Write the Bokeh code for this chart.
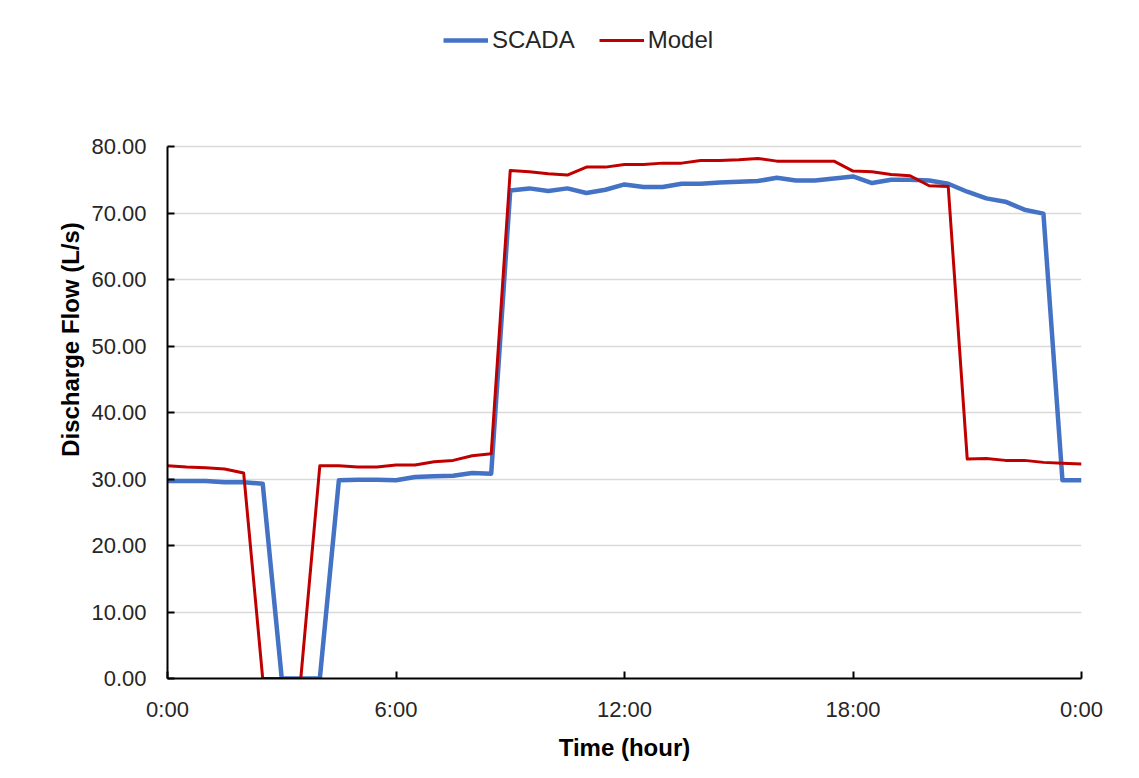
from bokeh.plotting import figure
from bokeh.models import Range1d, Legend, LegendItem, FixedTicker
from bokeh.embed import file_html
from bokeh.resources import INLINE

# Time of day (30-minute steps), hours as "H:MM"
time_labels = ["0:00", "0:30", "1:00", "1:30", "2:00", "2:30", "3:00", "3:30",
               "4:00", "4:30", "5:00", "5:30", "6:00", "6:30", "7:00", "7:30",
               "8:00", "8:30", "9:00", "9:30", "10:00", "10:30", "11:00", "11:30",
               "12:00", "12:30", "13:00", "13:30", "14:00", "14:30", "15:00", "15:30",
               "16:00", "16:30", "17:00", "17:30", "18:00", "18:30", "19:00", "19:30",
               "20:00", "20:30", "21:00", "21:30", "22:00", "22:30", "23:00", "23:30",
               "24:00"]

scada = [29.7, 29.7, 29.7, 29.5, 29.5, 29.3, 0.0, 0.0,
         0.0, 29.8, 29.9, 29.9, 29.8, 30.3, 30.4, 30.5,
         30.9, 30.8, 73.4, 73.7, 73.3, 73.7, 73.0, 73.5,
         74.3, 73.9, 73.9, 74.4, 74.4, 74.6, 74.7, 74.8,
         75.3, 74.9, 74.9, 75.2, 75.5, 74.5, 75.0, 75.0,
         74.9, 74.4, 73.2, 72.2, 71.7, 70.5, 69.9, 29.8,
         29.8]

model = [32.0, 31.8, 31.7, 31.5, 30.9, 0.0, 0.0, 0.0,
         32.0, 32.0, 31.8, 31.8, 32.1, 32.1, 32.6, 32.8,
         33.5, 33.8, 76.4, 76.2, 75.9, 75.7, 76.9, 76.9,
         77.3, 77.3, 77.5, 77.5, 77.9, 77.9, 78.0, 78.2,
         77.8, 77.8, 77.8, 77.8, 76.3, 76.2, 75.8, 75.6,
         74.1, 74.0, 33.0, 33.1, 32.8, 32.8, 32.5, 32.35,
         32.25]

x_ticks = [0, 6, 12, 18, 24]
x_tick_labels = ["0:00", "6:00", "12:00", "18:00", "0:00"]
y_ticks = [0, 10, 20, 30, 40, 50, 60, 70, 80]
y_max = 80

hours = [int(t.split(":")[0]) + int(t.split(":")[1]) / 60 for t in time_labels]

FONT = "Liberation Sans"

# Layout (pixels): plotting area of the data 532 px high; the frame extends
# up to the top of the canvas so that the legend can sit above the data.
FIG_H = 770
BORDER_BOTTOM = 92
DATA_H = 532
FRAME_H = FIG_H - BORDER_BOTTOM
y_top = y_max * FRAME_H / DATA_H

p = figure(width=1131, height=FIG_H, output_backend="svg", toolbar_location=None,
           x_range=Range1d(0, 24), y_range=Range1d(0, y_top),
           min_border_left=167, min_border_right=50, min_border_top=0,
           min_border_bottom=BORDER_BOTTOM)
p.outline_line_color = None
p.background_fill_color = "white"
p.border_fill_color = "white"

r1 = p.line(hours, scada, line_color="#4472C4", line_width=4.5, line_join="round")
r2 = p.line(hours, model, line_color="#C00000", line_width=3, line_join="round")

# axes
p.xaxis.ticker = FixedTicker(ticks=x_ticks)
p.xaxis.major_label_overrides = {t: l for t, l in zip(x_ticks, x_tick_labels)}
p.yaxis.ticker = FixedTicker(ticks=y_ticks)
p.yaxis.major_label_overrides = {v: f"{v:.2f}" for v in y_ticks}
p.yaxis.bounds = (0, y_max)

for ax in (p.xaxis[0], p.yaxis[0]):
    ax.axis_line_color = "black"
    ax.axis_line_width = 2
    ax.major_tick_line_color = "black"
    ax.major_tick_line_width = 2
    ax.major_tick_in = 7
    ax.major_tick_out = 0
    ax.minor_tick_line_color = None
    ax.major_label_text_font = FONT
    ax.major_label_text_font_size = "22px"
    ax.major_label_text_color = "#262626"
    ax.axis_label_text_font = FONT
    ax.axis_label_text_font_size = "24px"
    ax.axis_label_text_font_style = "bold"
    ax.axis_label_text_color = "black"

p.xaxis.axis_label = "Time (hour)"
p.yaxis.axis_label = "Discharge Flow (L/s)"
p.xaxis.major_label_standoff = 18
p.yaxis.major_label_standoff = 21
p.xaxis.axis_label_standoff = 9
p.yaxis.axis_label_standoff = 4

p.xgrid.grid_line_color = None
p.ygrid.grid_line_color = "#D9D9D9"
p.ygrid.grid_line_width = 1.5
p.ygrid.ticker = FixedTicker(ticks=y_ticks)
p.ygrid.bounds = (0, 24)

legend = Legend(items=[LegendItem(label="SCADA", renderers=[r1]),
                       LegendItem(label="Model", renderers=[r2])],
                orientation="horizontal", location=(276, 624),
                label_text_font=FONT, label_text_font_size="24px",
                label_text_color="#262626", glyph_width=45,
                label_standoff=4, spacing=24, padding=0, margin=0,
                border_line_color=None, background_fill_alpha=0)
p.add_layout(legend, "center")

open("out.html", "w").write(file_html(p, INLINE))
